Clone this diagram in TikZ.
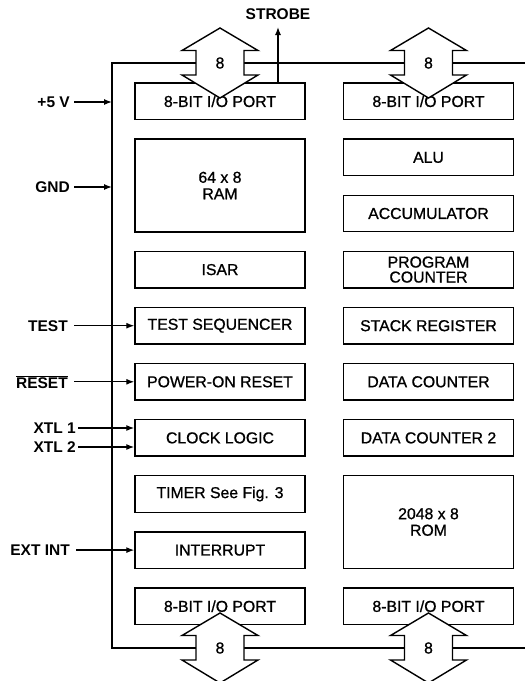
\documentclass[tikz,border=0pt]{standalone}
\usepackage{fontspec}
\setmainfont{Liberation Sans}
\newfontfamily\boxfont[FakeBold=0.9]{Liberation Sans}
\usetikzlibrary{arrows.meta}
\begin{document}
\begin{tikzpicture}[x=1pt,y=-1pt,
  blk/.style={draw, line width=1.4pt, fill=white, minimum width=170pt,
    minimum height=36.5pt, inner sep=0pt, align=center,
    font=\boxfont\fontsize{15.8}{16.5}\selectfont},
  lbl/.style={font=\bfseries\fontsize{15.5}{17}\selectfont, anchor=east, inner sep=0pt},
  arr/.style={line width=1.3pt, -{Latex[length=8pt,width=6pt]}},
  chip/.style={line width=2.4pt},
  bus/.style={draw, line width=1.4pt, fill=white, line join=miter},
  busnum/.style={font=\boxfont\fontsize{15.8}{16}\selectfont, inner sep=0pt}]
\useasboundingbox (0,0) rectangle (525,681);

% chip outline
\coordinate (cTL) at (112,63);
\coordinate (cBL) at (112,648);
\coordinate (cTR) at (525,63);
\coordinate (cBR) at (525,648);
\draw[chip] (cTR) -- (cTL) -- (cBL) -- (cBR);

% blocks, left column
\node[blk] (p1)   at (220,101.3) {8-BIT I/O PORT};
\node[blk, minimum height=93pt] (ram) at (220,185.5) {64 x 8\\RAM};
\node[blk] (isar) at (220,269.6) {ISAR};
\node[blk] (tseq) at (220,325.7) {TEST SEQUENCER};
\node[blk] (por)  at (220,381.8) {POWER-ON RESET};
\node[blk] (clk)  at (220,437.9) {CLOCK LOGIC};
\node[blk] (tmr)  at (220,494.0) {TIMER See Fig. 3};
\node[blk] (intr) at (220,550.1) {INTERRUPT};
\node[blk] (p3)   at (220,606.2) {8-BIT I/O PORT};

% blocks, right column
\node[blk] (p2)   at (428.5,101.3) {8-BIT I/O PORT};
\node[blk] (alu)  at (428.5,157.4) {ALU};
\node[blk] (acc)  at (428.5,213.5) {ACCUMULATOR};
\node[blk] (pc)   at (428.5,269.6) {PROGRAM\\[-1.5pt]COUNTER};
\node[blk] (sr)   at (428.5,325.7) {STACK REGISTER};
\node[blk] (dc)   at (428.5,381.8) {DATA COUNTER};
\node[blk] (dc2)  at (428.5,437.9) {DATA COUNTER 2};
\node[blk, minimum height=93pt] (rom) at (428.5,522.0) {2048 x 8\\ROM};
\node[blk] (p4)   at (428.5,606.2) {8-BIT I/O PORT};

% bus arrows
\foreach \cx/\cy/\nm in {220/63/b1, 428.5/63/b2, 220/648/b3, 428.5/648/b4}{
  \begin{scope}[shift={(\cx,\cy)}]
    \draw[bus] (0,-35) -- (38,-12.5) -- (24,-12.5) -- (24,12) -- (38,12) -- (0,35)
      -- (-38,12) -- (-24,12) -- (-24,-12.5) -- (-38,-12.5) -- cycle;
    \node[busnum] (\nm) at (0,0) {8};
  \end{scope}
}

% strobe
\node[lbl, anchor=center] (strobe) at (278,14) {STROBE};
\coordinate (sT) at (278,27);
\draw[arr] (p1.north -| sT) -- (sT);

% left-side inputs
\node[lbl] (v5)  at (70,102)   {+5 V};
\node[lbl] (gnd) at (70,187)   {GND};
\node[lbl] (test) at (68,325.7) {TEST};
\node[lbl] (rst) at (68,381.8) {$\overline{\hbox{RESET}}$};
\node[lbl] (x1)  at (76,428)   {XTL 1};
\node[lbl] (x2)  at (76,447)   {XTL 2};
\node[lbl] (ei)  at (70,550.1) {EXT INT};

\draw[arr, shorten <=4pt] (v5.east)  -- (v5.east -| cTL);
\draw[arr, shorten <=4pt] (gnd.east) -- (gnd.east -| cTL);
\draw[arr, shorten <=6pt] (test.east) -- (tseq.west);
\draw[arr, shorten <=6pt] (rst.east) -- (por.west);
\draw[arr, shorten <=2pt] (x1.east) -- (x1.east -| clk.west);
\draw[arr, shorten <=2pt] (x2.east) -- (x2.east -| clk.west);
\draw[arr, shorten <=6pt] (ei.east) -- (intr.west);
\end{tikzpicture}
\end{document}
